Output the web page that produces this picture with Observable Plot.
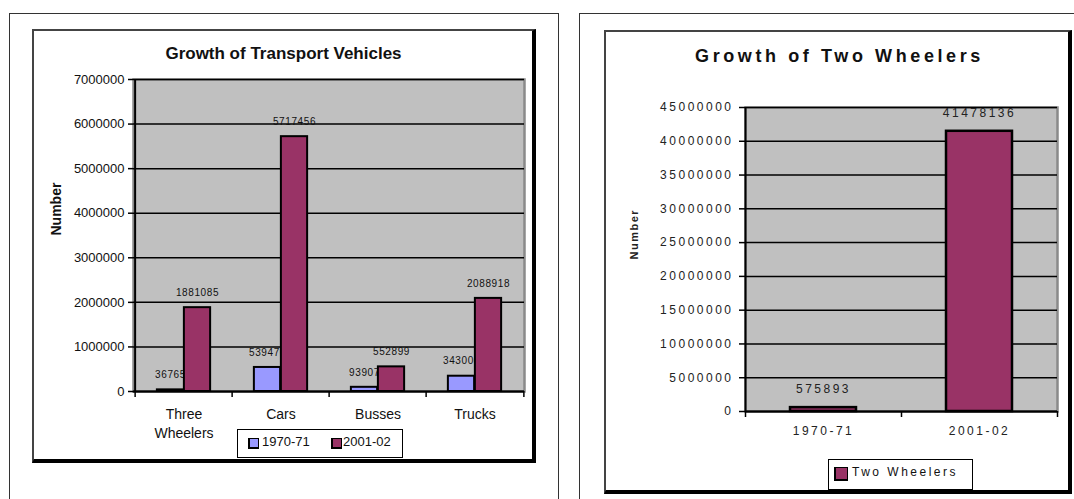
<!DOCTYPE html>
<html>
<head>
<meta charset="utf-8">
<script src="https://cdn.jsdelivr.net/npm/d3@7"></script>
<script src="https://cdn.jsdelivr.net/npm/@observablehq/plot@0.6"></script>
<style>
  html, body { margin: 0; padding: 0; background: #fff; }
  body { font-family: "Liberation Sans", Arial, sans-serif; color: #111; }
  #page { position: relative; width: 1074px; height: 499px; overflow: hidden; background: #fff; }
  .outer { position: absolute; box-sizing: border-box; border: 1.5px solid #333; }
  .inner { position: absolute; box-sizing: border-box; background: #fff;
           border-top: 2px solid #444; border-left: 2px solid #444;
           border-right: 4px solid #000; border-bottom: 4px solid #000; }
  .title { position: absolute; text-align: center; font-weight: bold; white-space: nowrap; color: #111; }
  .legend { position: absolute; box-sizing: border-box; border: 1.5px solid #000; background: #fff; }
  .legend .sw { position: absolute; box-sizing: border-box; border: 1.5px solid #000; border-bottom-width: 2px; border-left-width: 2px; }
  .legend .lt { position: absolute; white-space: nowrap; color: #111; }
  .chart { position: absolute; }
</style>
</head>
<body>
<div id="page">
  <div class="outer" style="left:9px;top:13px;width:550px;height:600px;"></div>
  <div class="outer" style="left:579px;top:13px;width:600px;height:600px;"></div>
  <div class="inner" style="left:32px;top:29px;width:504px;height:434px;"></div>
  <div class="inner" style="left:604px;top:30px;width:468px;height:464px;"></div>
  <div id="titleL" class="title" style="left:32px;top:44px;width:503px;font-size:17px;line-height:20px;"></div>
  <div id="titleR" class="title" style="left:606px;top:46px;width:467px;font-size:18px;line-height:20px;letter-spacing:3.6px;"></div>
  <div id="chartL" class="chart" style="left:34px;top:66px;"></div>
  <div id="chartR" class="chart" style="left:604px;top:95px;"></div>
  <div id="legendL" class="legend" style="left:237px;top:429px;width:166px;height:29px;"></div>
  <div id="legendR" class="legend" style="left:828px;top:459px;width:145px;height:31px;"></div>
</div>
<script>
// ---------- data ----------
const titleLeft = "Growth of Transport Vehicles";
const titleRight = "Growth of Two Wheelers";
const axisTitle = "Number";

const categories = ["Three Wheelers", "Cars", "Busses", "Trucks"];
const categoryLabels = ["Three\nWheelers", "Cars", "Busses", "Trucks"];
const seriesNames = ["1970-71", "2001-02"];
const values1970 = [36765, 539476, 93907, 343000];
const values2001 = [1881085, 5717456, 552899, 2088918];
const yTicksLeft = [0, 1000000, 2000000, 3000000, 4000000, 5000000, 6000000, 7000000];

const twoWheelerSeries = "Two Wheelers";
const twoWheelerPeriods = ["1970-71", "2001-02"];
const twoWheelerValues = [575893, 41478136];
const yTicksRight = [0, 5000000, 10000000, 15000000, 20000000, 25000000, 30000000, 35000000, 40000000, 45000000];

const colors = { "1970-71": "#9999ff", "2001-02": "#993366", "Two Wheelers": "#993366" };

// ---------- tables ----------
const leftData = categories.flatMap((c, i) => [
  { category: c, series: seriesNames[0], value: values1970[i] },
  { category: c, series: seriesNames[1], value: values2001[i] }
]);
const d70 = leftData.filter(d => d.series === seriesNames[0]);
const d01 = leftData.filter(d => d.series === seriesNames[1]);
const rightData = twoWheelerPeriods.map((p, i) => ({ period: p, value: twoWheelerValues[i] }));

const fontFamily = '"Liberation Sans", Arial, sans-serif';
const fmt = d3.format("d");

// ---------- left chart ----------
const L = { width: 500, height: 372, mL: 99, mR: 10, mT: 13, mB: 47 };
const bwL = (L.width - L.mL - L.mR) / categories.length;
const barWL = 27;
const gapL = bwL / 2 - barWL;

const chartL = Plot.plot({
  width: L.width, height: L.height,
  marginLeft: L.mL, marginRight: L.mR, marginTop: L.mT, marginBottom: L.mB,
  style: { fontFamily, fontSize: "13px", background: "transparent", overflow: "visible", color: "#111" },
  x: { domain: categories, padding: 0, axis: null },
  y: { domain: [0, 7000000], axis: null },
  marks: [
    Plot.frame({ fill: "#c0c0c0", stroke: "#8a8a8a", strokeWidth: 2.5 }),
    Plot.gridY(yTicksLeft, { stroke: "#000", strokeOpacity: 1, strokeWidth: 1.5 }),
    Plot.axisY(yTicksLeft, { tickFormat: fmt, tickSize: 5, tickPadding: 4, fontSize: 13, label: null, stroke: "#000", strokeWidth: 1.5 }),
    Plot.ruleX([categories[0]], { dx: -bwL / 2, stroke: "#000", strokeWidth: 2 }),
    Plot.ruleY([0], { stroke: "#000", strokeWidth: 2 }),
    Plot.axisX({ tickSize: 6, tickFormat: () => "", dx: -bwL / 2, label: null, stroke: "#000", strokeWidth: 1.5 }),
    Plot.axisX([categories[categories.length - 1]], { tickSize: 6, tickFormat: () => "", dx: bwL / 2, label: null, stroke: "#000", strokeWidth: 1.5 }),
    Plot.axisX({ tickSize: 0, tickPadding: 15, tickFormat: d => categoryLabels[categories.indexOf(d)], fontSize: 14, lineHeight: 1.3, label: null }),
    Plot.barY(d70, { x: "category", y: "value", fill: colors["1970-71"], stroke: "#000", strokeWidth: 2, insetLeft: gapL, insetRight: bwL - gapL - barWL }),
    Plot.text(d70, { x: "category", y: "value", text: d => String(d.value), dx: -barWL / 2, dy: -15, fontSize: 10, fill: "#111" }),
    Plot.barY(d01, { x: "category", y: "value", fill: colors["2001-02"], stroke: "#000", strokeWidth: 2, insetLeft: gapL + barWL, insetRight: gapL }),
    Plot.text(d01, { x: "category", y: "value", text: d => String(d.value), dx: barWL / 2, dy: -15, fontSize: 10, fill: "#111" }),
    Plot.text([axisTitle], { frameAnchor: "left", rotate: -90, dx: -77, fontSize: 14, fontWeight: "bold", fill: "#111" })
  ]
});
{
  const groups = chartL.querySelectorAll('g[aria-label="text"]');
  if (groups[0]) groups[0].setAttribute("letter-spacing", "0.6");
  if (groups[1]) groups[1].setAttribute("letter-spacing", "0.6");
}
document.getElementById("chartL").appendChild(chartL);

// ---------- right chart ----------
const R = { width: 466, height: 350, mL: 141, mR: 13, mT: 12, mB: 34 };
const bwR = (R.width - R.mL - R.mR) / twoWheelerPeriods.length;
const barWR = 66;
const insetR = (bwR - barWR) / 2;

const chartR = Plot.plot({
  width: R.width, height: R.height,
  marginLeft: R.mL, marginRight: R.mR, marginTop: R.mT, marginBottom: R.mB,
  style: { fontFamily, fontSize: "12px", background: "transparent", overflow: "visible", color: "#222", letterSpacing: "2.5px" },
  x: { domain: twoWheelerPeriods, padding: 0, axis: null },
  y: { domain: [0, 45000000], axis: null },
  marks: [
    Plot.frame({ fill: "#c0c0c0", stroke: "#8a8a8a", strokeWidth: 2.5 }),
    Plot.gridY(yTicksRight, { stroke: "#000", strokeOpacity: 1, strokeWidth: 1.5 }),
    Plot.axisY(yTicksRight, { tickFormat: fmt, tickSize: 6, tickPadding: 6, fontSize: 12, label: null, stroke: "#000", strokeWidth: 1.5 }),
    Plot.ruleX([twoWheelerPeriods[0]], { dx: -bwR / 2, stroke: "#000", strokeWidth: 2 }),
    Plot.ruleY([0], { stroke: "#000", strokeWidth: 2 }),
    Plot.axisX({ tickSize: 6, tickFormat: () => "", dx: -bwR / 2, label: null, stroke: "#000", strokeWidth: 1.5 }),
    Plot.axisX([twoWheelerPeriods[twoWheelerPeriods.length - 1]], { tickSize: 6, tickFormat: () => "", dx: bwR / 2, label: null, stroke: "#000", strokeWidth: 1.5 }),
    Plot.axisX({ tickSize: 0, tickPadding: 15, fontSize: 12, label: null }),
    Plot.barY(rightData, { x: "period", y: "value", fill: colors["Two Wheelers"], stroke: "#000", strokeWidth: 2.5, insetLeft: insetR, insetRight: insetR }),
    Plot.text(rightData, { x: "period", y: "value", text: d => String(d.value), dy: -18, fontSize: 12, fill: "#222" }),
    Plot.text([axisTitle], { frameAnchor: "left", rotate: -90, dx: -111, fontSize: 11, fontWeight: "bold", fill: "#222" })
  ]
});
{
  const groups = chartR.querySelectorAll('g[aria-label="text"]');
  if (groups[1]) groups[1].setAttribute("letter-spacing", "1.5");
}
document.getElementById("chartR").appendChild(chartR);

// ---------- titles ----------
document.getElementById("titleL").textContent = titleLeft;
document.getElementById("titleR").textContent = titleRight;

// ---------- legends ----------
function addLegendItem(container, name, swLeft, swTop, swSize, textLeft, fontSize, spacing, lineTop) {
  const sw = document.createElement("div");
  sw.className = "sw";
  sw.style.left = swLeft + "px"; sw.style.top = swTop + "px";
  sw.style.width = swSize + "px"; sw.style.height = swSize + "px";
  sw.style.background = colors[name];
  container.appendChild(sw);
  const t = document.createElement("div");
  t.className = "lt";
  t.style.left = textLeft + "px"; t.style.top = lineTop + "px";
  t.style.fontSize = fontSize + "px"; t.style.lineHeight = "16px";
  t.style.letterSpacing = spacing + "px";
  t.textContent = name;
  container.appendChild(t);
}
const legL = document.getElementById("legendL");
addLegendItem(legL, seriesNames[0], 10, 8, 11, 24, 13, 0, 4);
addLegendItem(legL, seriesNames[1], 93, 8, 11, 105, 13, 0, 4);
const legR = document.getElementById("legendR");
addLegendItem(legR, twoWheelerSeries, 5, 7, 14, 23, 12, 2.5, 4);
</script>
</body>
</html>
